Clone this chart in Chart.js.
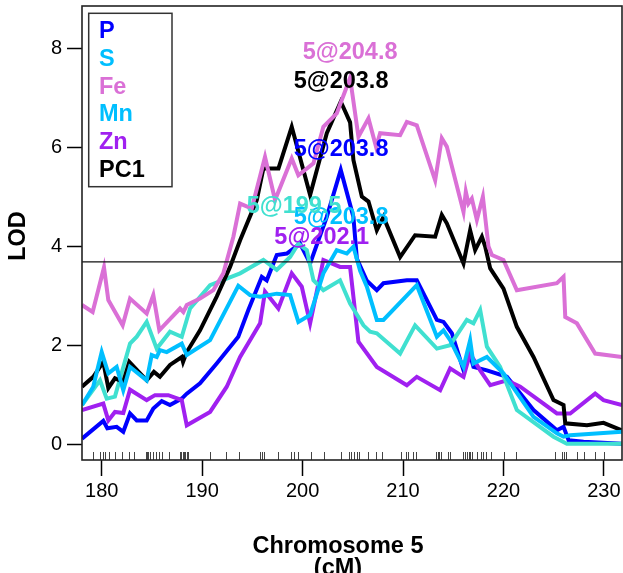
<!DOCTYPE html>
<html><head><meta charset="utf-8">
<script src="https://cdn.jsdelivr.net/npm/chart.js@4"></script>
<style>html,body{margin:0;padding:0;background:#fff;overflow:hidden}#wrap{width:623px;height:573px}</style>
</head><body><div id="wrap"><canvas id="c" width="623" height="573"></canvas></div>
<script>
// ---------------- data ----------------
const seriesNames = ['P','S','Fe','Mn','Zn','PC1'];
const lineColors = ['#0000FF','#00BFFF','#DA70D6','#40E0D0','#A020F0','#000000'];
const legendColors = ['#0000FF','#00BFFF','#DA70D6','#00BFFF','#A020F0','#000000'];
const xTicks = [180,190,200,210,220,230];
const yTicks = [0,2,4,6,8];
const xRange = [178.04,231.8];
const yRange = [-0.32,8.85];
const thresholdLOD = 3.68;
const xTitle = ['Chromosome 5','(cM)'];
const yTitle = 'LOD';

const markerPos = [179.13,179.8,180.1,180.36,180.69,181.36,182.02,182.72,183.25,184.38,184.51,184.65,184.78,185.08,185.41,185.71,185.97,186.74,187.8,187.93,188.06,188.2,188.33,188.46,188.63,190.75,192.35,193.71,195.8,195.97,196.17,197.6,198.89,199.12,199.52,200.81,202.1,203.83,204.6,204.85,205.16,205.46,205.66,206.56,207.29,207.95,209.78,210.28,210.48,211.04,211.31,213.3,213.46,213.63,213.8,214.46,214.69,216.02,216.19,216.35,216.52,216.69,216.85,217.41,217.75,218.01,218.28,218.78,220.1,221.23,225.15,225.85,226.01,226.18,227.34,228.0,229.13,230.03];

const posP = [178.04,180.16,180.56,181.49,182.15,182.82,183.49,184.48,185.14,185.98,186.8,187.97,188.47,189.79,191.45,193.6,194.6,195.94,196.43,197.43,198.43,199.75,200.75,202.41,203.8,205.06,205.4,206.4,207.39,208.05,210.38,211.37,213.37,214.03,214.86,216.02,216.68,217.01,218.35,220.34,222.99,225.32,225.98,226.48,227.97,231.8];
const lodP = [0.11,0.47,0.32,0.35,0.25,0.62,0.48,0.48,0.72,0.87,0.79,0.92,1.02,1.23,1.63,2.17,2.71,3.38,3.31,3.82,3.85,4.05,3.65,4.59,5.54,4.59,3.75,3.3,3.11,3.25,3.31,3.31,2.51,2.47,2.24,1.49,1.8,1.56,1.49,1.36,0.69,0.28,0.35,0.08,0.05,0.01];

const posS = [178.04,179.16,180.0,180.66,181.49,182.15,182.82,184.48,184.98,185.48,185.8,186.47,187.97,188.47,190.79,193.6,194.77,195.77,197.43,198.76,199.58,200.75,202.07,203.4,204.4,205.06,205.73,206.4,207.39,208.05,211.37,213.37,214.03,214.69,216.02,216.68,217.01,218.35,220.0,222.99,225.32,225.98,226.64,231.8];
const lodS = [0.79,1.16,1.86,1.43,1.56,1.09,1.56,1.29,1.8,1.76,1.9,1.86,2.03,1.8,2.1,3.2,3.01,2.98,3.04,3.01,2.47,2.61,3.45,3.92,3.85,3.99,3.5,3.18,2.51,2.51,3.21,2.17,2.3,2.1,1.56,2.1,1.63,1.76,1.43,0.55,0.22,0.15,0.18,0.25];

const posFe = [178.04,179.1,180.23,180.66,182.09,182.82,184.48,185.14,185.74,187.8,188.13,188.47,189.79,191.12,192.11,193.11,193.78,194.94,196.26,197.26,198.92,199.58,201.08,202.07,203.4,204.4,204.73,205.56,206.56,207.32,207.72,209.71,210.38,211.37,213.2,213.86,214.36,216.02,216.25,216.51,216.85,217.35,217.95,218.51,218.85,220.0,221.33,225.32,225.98,226.15,227.31,229.13,231.8];
const lodFe = [2.81,2.67,3.57,2.91,2.4,2.94,2.64,3.01,2.3,2.74,2.67,2.81,2.94,3.11,3.45,4.19,4.86,4.76,5.8,4.93,5.77,5.43,5.67,6.41,6.68,7.22,7.4,6.21,6.58,6.0,6.28,6.24,6.51,6.44,5.33,6.18,6.01,4.69,5.1,4.86,4.96,4.53,5.0,3.99,3.82,3.72,3.11,3.25,3.38,2.57,2.44,1.83,1.76];

const posMn = [178.04,179.83,180.5,181.32,182.82,183.49,184.48,185.48,186.8,187.97,188.8,190.79,193.78,196.1,197.43,198.76,199.58,200.42,201.08,202.07,203.73,204.73,206.06,206.72,207.39,209.71,211.2,213.37,214.69,216.35,217.01,217.68,218.35,219.67,221.33,224.98,226.31,231.8];
const lodMn = [0.79,1.29,0.92,0.96,2.03,2.17,2.47,1.93,2.27,2.17,2.74,3.21,3.45,3.72,3.52,3.78,4.05,3.92,3.31,3.11,3.31,2.84,2.4,2.27,2.24,1.83,2.4,1.93,2.0,2.51,2.44,2.71,1.97,1.56,0.69,0.15,0.01,0.01];

const posZn = [178.04,180.16,180.66,181.32,182.15,182.82,184.48,185.31,186.63,187.97,188.47,190.79,192.45,193.78,195.77,196.26,197.59,198.92,199.92,200.75,202.07,203.73,204.73,205.56,207.39,210.38,211.37,213.7,214.69,216.02,216.68,217.68,218.68,220.34,221.67,225.32,226.64,229.13,229.96,231.8];
const lodZn = [0.69,0.82,0.48,0.65,0.63,1.1,0.89,0.99,0.99,0.89,0.38,0.65,1.16,1.76,2.44,3.08,2.74,3.45,3.18,2.44,3.72,3.58,3.58,2.07,1.56,1.19,1.36,1.09,1.53,1.36,1.83,1.49,1.19,1.29,1.16,0.62,0.62,1.02,0.89,0.79];

const posPC1 = [178.04,179.16,180.16,180.66,181.32,182.15,182.75,184.48,185.2,185.8,186.8,187.97,188.1,188.47,189.79,191.45,192.78,193.78,195.44,196.1,197.6,198.92,200.75,202.41,203.8,204.73,205.06,205.9,206.56,207.39,208.05,209.71,211.2,213.2,213.86,214.36,216.02,216.68,217.18,217.85,218.18,218.68,220.0,221.33,222.99,224.98,225.98,226.15,228.31,229.96,231.8];
const lodPC1 = [1.16,1.36,1.66,1.13,1.33,1.26,1.66,1.29,1.46,1.36,1.6,1.76,1.66,1.86,2.3,2.98,3.58,4.12,4.93,5.57,5.57,6.41,5.03,6.28,6.92,6.5,5.74,5.0,4.9,4.32,4.59,3.78,4.22,4.19,4.63,4.46,3.65,4.32,3.92,4.19,3.99,3.55,3.14,2.37,1.76,0.89,0.79,0.42,0.38,0.43,0.28];

const peakText = ['5@203.8','5@203.8','5@204.8','5@199.5','5@202.1','5@203.8'];
const peakLabelX = [203.83,203.83,204.73,199.15,201.91,203.83];
const peakLabelY = [5.82,4.45,7.78,4.67,4.04,7.19];

// ---------------- chart ----------------
const positions = [posP,posS,posFe,posMn,posZn,posPC1];
const lods = [lodP,lodS,lodFe,lodMn,lodZn,lodPC1];
const drawOrder = [5,1,0,3,4,2]; // lower = drawn on top

const datasets = seriesNames.map((name,i)=>({
  label: name,
  data: positions[i].map((x,k)=>({x:x,y:lods[i][k]})),
  borderColor: lineColors[i],
  backgroundColor: lineColors[i],
  borderWidth: 4,
  pointRadius: 0,
  tension: 0,
  fill: false,
  order: drawOrder[i],
  borderJoinStyle: 'miter'
}));

const FONT = '"Liberation Sans", Arial, Helvetica, sans-serif';

const decor = {
  id: 'decor',
  afterDatasetsDraw(chart){
    const ctx = chart.ctx, a = chart.chartArea;
    const xs = chart.scales.x, ys = chart.scales.y;
    ctx.save();
    // threshold line
    const ty = ys.getPixelForValue(thresholdLOD);
    ctx.strokeStyle = '#111'; ctx.lineWidth = 1.2;
    ctx.beginPath(); ctx.moveTo(a.left, ty); ctx.lineTo(a.right, ty); ctx.stroke();
    // rug
    ctx.strokeStyle = '#444'; ctx.lineWidth = 1;
    markerPos.forEach(m=>{
      const px = Math.round(xs.getPixelForValue(m)) + 0.5;
      ctx.beginPath(); ctx.moveTo(px, a.bottom - 8); ctx.lineTo(px, a.bottom); ctx.stroke();
    });
    // peak labels
    ctx.font = 'bold 23.5px ' + FONT;
    ctx.textAlign = 'center'; ctx.textBaseline = 'alphabetic';
    peakText.forEach((t,i)=>{
      ctx.fillStyle = lineColors[i];
      ctx.fillText(t, xs.getPixelForValue(peakLabelX[i]), ys.getPixelForValue(peakLabelY[i]));
    });
    // legend
    const lx = a.left + 6.7, ly = a.top + 7.3;
    ctx.fillStyle = '#fff';
    ctx.fillRect(lx, ly, 83.3, 173.4);
    ctx.strokeStyle = '#333'; ctx.lineWidth = 1.5;
    ctx.strokeRect(lx, ly, 83.3, 173.4);
    ctx.textAlign = 'left';
    seriesNames.forEach((n,i)=>{
      ctx.fillStyle = legendColors[i];
      ctx.fillText(n, a.left + 17, a.top + 32.3 + i*27.68);
    });
    // box
    ctx.strokeStyle = '#222'; ctx.lineWidth = 1.6;
    ctx.strokeRect(a.left, a.top, a.right - a.left, a.bottom - a.top);
    // axis titles
    ctx.fillStyle = '#000';
    ctx.font = 'bold 23.5px ' + FONT;
    ctx.textAlign = 'center';
    const cx = (a.left + a.right)/2 - 14;
    ctx.fillText(xTitle[0], cx, 553);
    ctx.fillText(xTitle[1], cx, 575);
    ctx.translate(25, (a.top + a.bottom)/2 + 3);
    ctx.rotate(-Math.PI/2);
    ctx.fillText(yTitle, 0, 0);
    ctx.restore();
  }
};

new Chart(document.getElementById('c'), {
  type: 'line',
  data: { datasets },
  options: {
    responsive: false,
    animation: false,
    events: [],
    layout: { padding: { top: 6, right: 1, left: 0, bottom: 0 } },
    plugins: { legend: { display: false }, tooltip: { enabled: false }, title: { display: false } },
    scales: {
      x: {
        type: 'linear', min: xRange[0], max: xRange[1],
        afterFit(s){ s.height = 113; s.paddingLeft = 0; s.paddingRight = 0; s.paddingTop = 0; s.paddingBottom = 0; },
        afterBuildTicks(s){ s.ticks = xTicks.map(v=>({value:v})); },
        grid: { drawOnChartArea: false, drawTicks: true, tickLength: 16, tickColor: '#000', tickWidth: 1.5 },
        border: { display: false },
        ticks: { color: '#000', font: { size: 20, family: FONT }, padding: 3, maxRotation: 0, autoSkip: false, callback: v => String(v) }
      },
      y: {
        type: 'linear', min: yRange[0], max: yRange[1],
        afterFit(s){ s.width = 82; s.paddingTop = 0; s.paddingBottom = 0; s.paddingLeft = 0; s.paddingRight = 0; },
        afterBuildTicks(s){ s.ticks = yTicks.map(v=>({value:v})); },
        grid: { drawOnChartArea: false, drawTicks: true, tickLength: 15, tickColor: '#000', tickWidth: 1.5 },
        border: { display: false },
        ticks: { color: '#000', font: { size: 20, family: FONT }, padding: 5, autoSkip: false, callback: v => String(v) }
      }
    }
  },
  plugins: [decor]
});
</script></body></html>
